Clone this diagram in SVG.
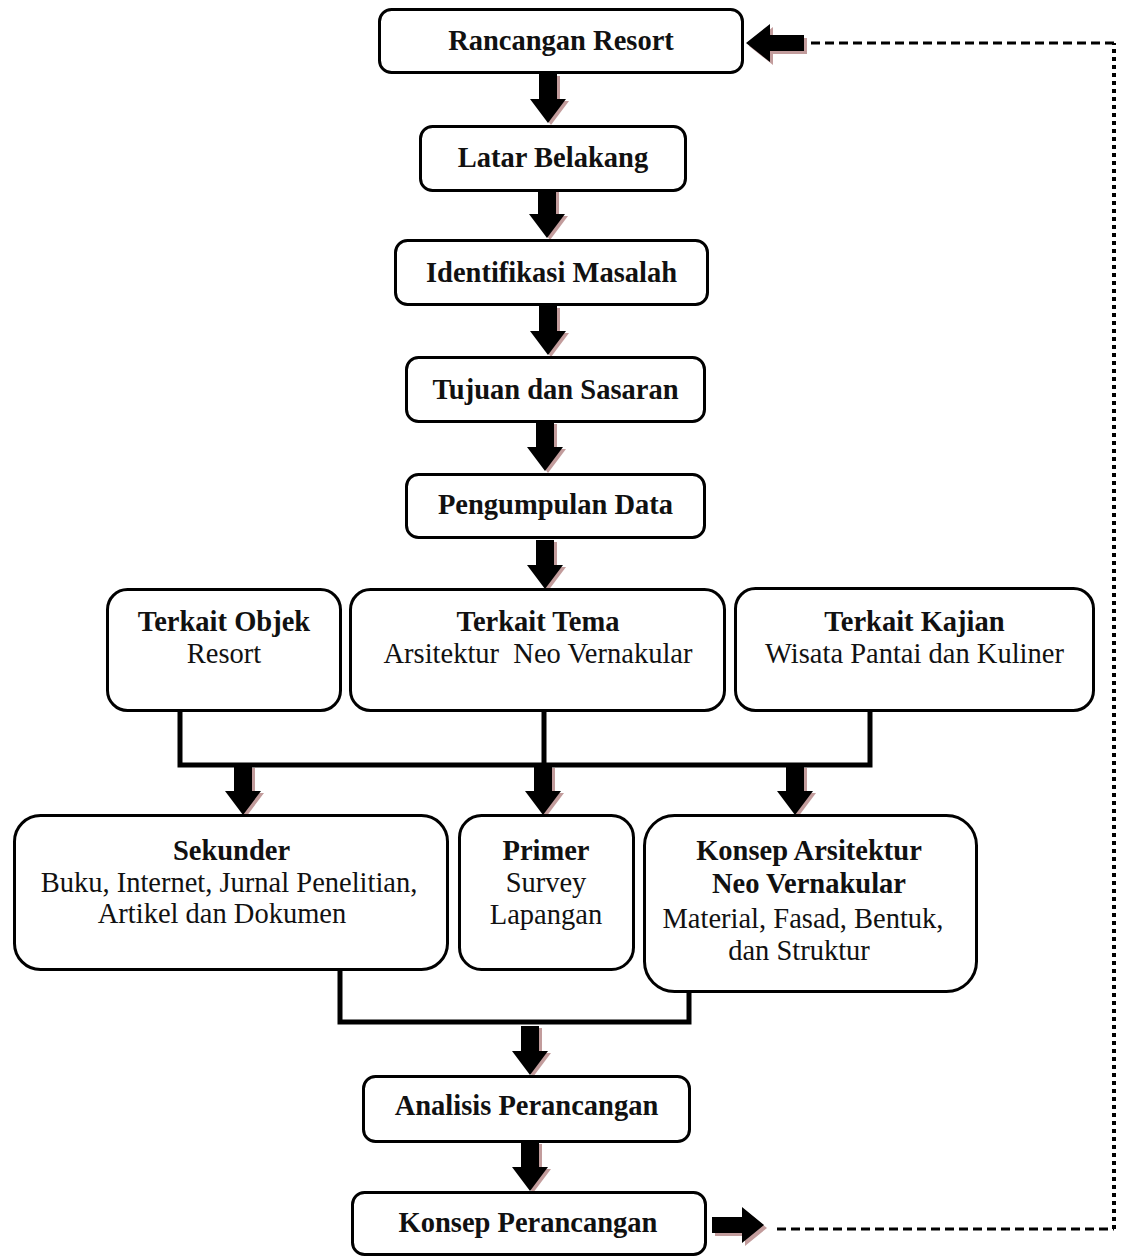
<svg xmlns="http://www.w3.org/2000/svg" width="1126" height="1256" viewBox="0 0 1126 1256">
  <style>
    .box { fill: #ffffff; stroke: #000000; stroke-width: 3; }
    .t { font-family: "Liberation Serif", "Times New Roman", serif; font-size: 28.5px; fill: #111111; text-anchor: middle; }
    .b { font-weight: bold; }
    .wire { fill: none; stroke: #000000; stroke-width: 5; stroke-linecap: square; }
    .dash { fill: none; stroke: #000000; stroke-width: 3; stroke-dasharray: 9 5; }
    .dot { fill: none; stroke: #000000; stroke-width: 4; stroke-dasharray: 4 4; }
    .shade { fill: #c29c9c; }
    .ink { fill: #000000; }
  </style>
  <defs>
    <!-- block arrow pointing down, tip at the origin -->
    <path id="arrowDown" d="M-9,-49 H9 V-24 H18 L0,0 L-18,-24 H-9 Z"/>
    <!-- block arrow pointing right, tip at the origin -->
    <path id="arrowRight" d="M-52,-8 H-22 V-18 L0,0 L-22,18 V8 H-52 Z"/>
    <!-- block arrow pointing left, tip at the origin -->
    <path id="arrowLeft" d="M58,-8 H24 V-19 L0,0 L24,19 V8 H58 Z"/>
  </defs>

  <!-- connectors -->
  <g id="connectors">
    <!-- fan-in from the three data topics -->
    <path class="wire" d="M180,712 V765 H870 V712 M544,712 V765"/>
    <!-- fan-in from secondary data and concept -->
    <path class="wire" d="M340,971 V1022 H689 V993"/>
    <!-- feedback loop -->
    <path class="dash" d="M777,1229 H1114"/>
    <path class="dot" d="M1114,1229 V43"/>
    <path class="dash" d="M1114,43 H806"/>

    <!-- block arrows with soft shadow -->
    <g class="shade">
      <use href="#arrowDown" transform="translate(551,125)"/>
      <use href="#arrowDown" transform="translate(550,240)"/>
      <use href="#arrowDown" transform="translate(551,357)"/>
      <use href="#arrowDown" transform="translate(548,473)"/>
      <use href="#arrowDown" transform="translate(548,591)"/>
      <use href="#arrowDown" transform="translate(246,817)"/>
      <use href="#arrowDown" transform="translate(546,817)"/>
      <use href="#arrowDown" transform="translate(798,817)"/>
      <use href="#arrowDown" transform="translate(533,1077)"/>
      <use href="#arrowDown" transform="translate(533,1193)"/>
      <use href="#arrowRight" transform="translate(767,1228)"/>
      <use href="#arrowLeft" transform="translate(749,46)"/>
    </g>
    <g class="ink">
      <use href="#arrowDown" transform="translate(548,123)"/>
      <use href="#arrowDown" transform="translate(547,238)"/>
      <use href="#arrowDown" transform="translate(548,355)"/>
      <use href="#arrowDown" transform="translate(545,471)"/>
      <use href="#arrowDown" transform="translate(545,589)"/>
      <use href="#arrowDown" transform="translate(243,815)"/>
      <use href="#arrowDown" transform="translate(543,815)"/>
      <use href="#arrowDown" transform="translate(795,815)"/>
      <use href="#arrowDown" transform="translate(530,1075)"/>
      <use href="#arrowDown" transform="translate(530,1191)"/>
      <use href="#arrowRight" transform="translate(764,1225)"/>
      <use href="#arrowLeft" transform="translate(746,43)"/>
    </g>
  </g>

  <!-- nodes -->
  <g id="rancangan-resort">
    <rect class="box" x="379.5" y="9.5" width="363" height="63" rx="12"/>
    <text class="t b" x="561" y="50">Rancangan Resort</text>
  </g>
  <g id="latar-belakang">
    <rect class="box" x="420.5" y="126.5" width="265" height="64" rx="12"/>
    <text class="t b" x="553" y="167">Latar Belakang</text>
  </g>
  <g id="identifikasi-masalah">
    <rect class="box" x="395.5" y="240.5" width="312" height="64" rx="12"/>
    <text class="t b" x="551.5" y="282">Identifikasi Masalah</text>
  </g>
  <g id="tujuan-sasaran">
    <rect class="box" x="406.5" y="357.5" width="298" height="64" rx="12"/>
    <text class="t b" x="555.5" y="399">Tujuan dan Sasaran</text>
  </g>
  <g id="pengumpulan-data">
    <rect class="box" x="406.5" y="474.5" width="298" height="63" rx="12"/>
    <text class="t b" x="555.5" y="514">Pengumpulan Data</text>
  </g>

  <g id="terkait-objek">
    <rect class="box" x="107.5" y="589.5" width="233" height="121" rx="20"/>
    <text class="t b" x="224" y="631">Terkait Objek</text>
    <text class="t" x="224" y="663">Resort</text>
  </g>
  <g id="terkait-tema">
    <rect class="box" x="350.5" y="589.5" width="374" height="121" rx="20"/>
    <text class="t b" x="538" y="631">Terkait Tema</text>
    <text class="t" x="538" y="663" xml:space="preserve">Arsitektur  Neo Vernakular</text>
  </g>
  <g id="terkait-kajian">
    <rect class="box" x="735.5" y="588.5" width="358" height="122" rx="20"/>
    <text class="t b" x="914.5" y="631">Terkait Kajian</text>
    <text class="t" x="914.5" y="663">Wisata Pantai dan Kuliner</text>
  </g>

  <g id="sekunder">
    <rect class="box" x="14.5" y="815.5" width="433" height="154" rx="26"/>
    <text class="t b" x="231.5" y="860">Sekunder</text>
    <text class="t" x="229" y="892">Buku, Internet, Jurnal Penelitian,</text>
    <text class="t" x="222" y="923">Artikel dan Dokumen</text>
  </g>
  <g id="primer">
    <rect class="box" x="459.5" y="815.5" width="174" height="154" rx="22"/>
    <text class="t b" x="546" y="860">Primer</text>
    <text class="t" x="546" y="892">Survey</text>
    <text class="t" x="546" y="924">Lapangan</text>
  </g>
  <g id="konsep-arsitektur">
    <rect class="box" x="644.5" y="815.5" width="332" height="176" rx="30"/>
    <text class="t b" x="809" y="860">Konsep Arsitektur</text>
    <text class="t b" x="809" y="893">Neo Vernakular</text>
    <text class="t" x="803" y="928">Material, Fasad, Bentuk,</text>
    <text class="t" x="799" y="960">dan Struktur</text>
  </g>

  <g id="analisis-perancangan">
    <rect class="box" x="363.5" y="1076.5" width="326" height="65" rx="12"/>
    <text class="t b" x="526.5" y="1115">Analisis Perancangan</text>
  </g>
  <g id="konsep-perancangan">
    <rect class="box" x="352.5" y="1192.5" width="353" height="62" rx="12"/>
    <text class="t b" x="528" y="1232">Konsep Perancangan</text>
  </g>
</svg>
